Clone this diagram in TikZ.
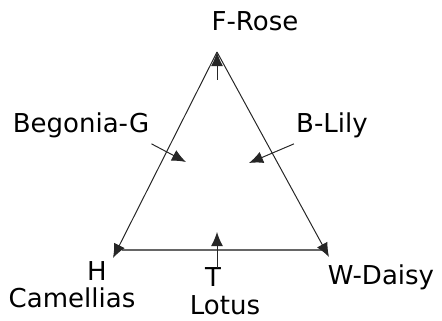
\documentclass[tikz,border=0pt]{standalone}
\usepackage{fontspec}
\setmainfont{DejaVu Sans}
\usetikzlibrary{arrows.meta}

\begin{document}
\begin{tikzpicture}[
        lbl/.style={
        inner sep=0pt,
        font=\fontsize{18.5}{22}\selectfont},
        side/.style={
        draw=black!85, line width=0.7pt,
        -{Latex[length=10pt,width=8.5pt]}},
        ]

        \useasboundingbox (0,0) rectangle (11.05,8.025);

        \coordinate (top) at (5.425,6.725);
        \coordinate (stem) at (5.425,6.025);
        \coordinate (hv) at (2.825,1.575);
        \coordinate (wv) at (8.225,1.6);
        \coordinate (bl) at (3.05,1.775);
        \coordinate (br) at (8.05,1.775);
        \coordinate (gp) at (4.65,3.975);
        \coordinate (lp) at (6.225,3.95);
        \coordinate (tp) at (5.425,2.225);
        \coordinate (ts) at (5.425,1.325);

        \node (rose) [lbl] at (6.375,7.5){F-Rose};
        \node (begonia) [lbl] at (2.025,4.9){Begonia-G};
        \node (lily) [lbl] at (8.3,4.9){B-Lily};
        \node (h) [lbl] at (2.425,1.25){H};
        \node (camellia) [lbl] at (1.8,0.575){Camellias};
        \node (t) [lbl] at (5.325,1.1){T};
        \node (lotus) [lbl] at (5.625,0.4){Lotus};
        \node (daisy) [lbl] at (9.525,1.1){W-Daisy};

        \draw [draw=black!60, line width=1.2pt] (bl) -- (br);
        \draw [side] (top) -- (hv);
        \draw [side] (top) -- (wv);
        \draw [side] (stem) -- (top);
        \draw [side] (ts) -- (tp);
        \draw [side] (begonia.south east) ++(0.05,-0.15) -- (gp);
        \draw [side] (lily.south west) ++(-0.05,-0.15) -- (lp);
    \end{tikzpicture}
\end{document}
